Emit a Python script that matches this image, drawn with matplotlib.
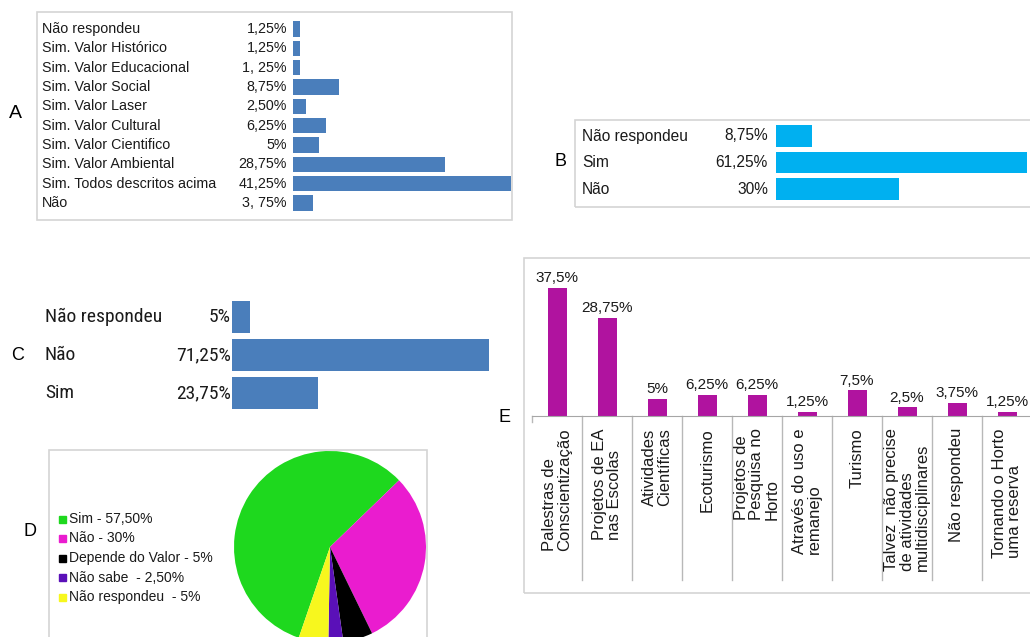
import matplotlib
matplotlib.use("Agg")
import matplotlib.pyplot as plt
import matplotlib.transforms as mtransforms
from matplotlib.patches import Rectangle
from matplotlib import font_manager

plt.rcParams['font.family'] = ['Liberation Sans', 'DejaVu Sans']

# ---------------- data ----------------
cats_A = ["Não respondeu", "Sim. Valor Histórico", "Sim. Valor Educacional",
          "Sim. Valor Social", "Sim. Valor Laser", "Sim. Valor Cultural",
          "Sim. Valor Cientifico", "Sim. Valor Ambiental",
          "Sim. Todos descritos acima", "Não"]
vals_A = [1.25, 1.25, 1.25, 8.75, 2.50, 6.25, 5, 28.75, 41.25, 3.75]
labels_A = ["1,25%", "1,25%", "1, 25%", "8,75%", "2,50%", "6,25%", "5%",
            "28,75%", "41,25%", "3, 75%"]

cats_B = ["Não respondeu", "Sim", "Não"]
vals_B = [8.75, 61.25, 30]
labels_B = ["8,75%", "61,25%", "30%"]

cats_C = ["Não respondeu", "Não", "Sim"]
vals_C = [5, 71.25, 23.75]
labels_C = ["5%", "71,25%", "23,75%"]

cats_D = ["Sim - 57,50%", "Não - 30%", "Depende do Valor - 5%",
          "Não sabe  - 2,50%", "Não respondeu  - 5%"]
vals_D = [57.5, 30, 5, 2.5, 5]
colors_D = ["#1ED81E", "#EA1CCF", "#000000", "#5A10B8", "#F7F71E"]

cats_E = ["Palestras de\nConscientização", "Projetos de EA\nnas Escolas",
          "Atividades\nCientíficas", "Ecoturismo",
          "Projetos de\nPesquisa no\nHorto", "Através do uso e\nremanejo",
          "Turismo", "Talvez  não precise\nde atividades\nmultidisciplinares",
          "Não respondeu", "Tornando o Horto\numa reserva"]
vals_E = [37.5, 28.75, 5, 6.25, 6.25, 1.25, 7.5, 2.5, 3.75, 1.25]
labels_E = ["37,5%", "28,75%", "5%", "6,25%", "6,25%", "1,25%", "7,5%",
            "2,5%", "3,75%", "1,25%"]

# ---------------- layout helpers ----------------
W, H = 1030, 637
fig = plt.figure(figsize=(W / 100, H / 100), dpi=100)
fig.patch.set_facecolor("white")


def rect(l, t, r, b):
    return [l / W, 1 - b / H, (r - l) / W, (b - t) / H]


def ftext(x, y, s, **kw):
    return fig.text(x / W, 1 - y / H, s, **kw)


def box(l, t, r, b, ec="#D4D4D4"):
    fig.add_artist(Rectangle((l / W, 1 - b / H), (r - l) / W, (b - t) / H,
                             transform=fig.transFigure, fill=False,
                             edgecolor=ec, linewidth=1.2))


def hbar_panel(cats, vals, labels, color, l, r, top, bottom, vmax, height,
               cat_x, val_x, fs, **fontkw):
    ax = fig.add_axes(rect(l, top, r, bottom))
    n = len(cats)
    ax.barh(range(n), vals, height=height, color=color)
    ax.set_xlim(0, vmax)
    ax.set_ylim(n - 0.5, -0.5)
    ax.axis("off")
    tr = mtransforms.blended_transform_factory(fig.transFigure, ax.transData)
    kw = dict(fontsize=fs, va="center", transform=tr, color="#1a1a1a")
    kw.update(fontkw)
    for i, (c, lab) in enumerate(zip(cats, labels)):
        ax.text(cat_x / W, i, c, ha="left", **kw)
        ax.text(val_x / W, i, lab, ha="right", **kw)
    return ax


# pick a condensed face if one is installed
names = {f.name for f in font_manager.fontManager.ttflist}
cond = None
for cand in ["Roboto Condensed", "Liberation Sans Narrow",
             "DejaVu Sans Condensed", "Open Sans Condensed"]:
    if cand in names:
        cond = cand
        break
if cond is not None:
    condkw = dict(family=[cond, "DejaVu Sans"])
else:
    condkw = dict(family=["DejaVu Sans"], fontstretch="condensed")

# ---------------- Panel A ----------------
box(37, 12, 512, 220)
hbar_panel(cats_A, vals_A, labels_A, "#4A7EBB", 293, 511, 19.3, 212.7,
           41.25, 0.78, 42, 287, 10.3)
ftext(15, 113, "A", fontsize=14, ha="center", va="center")

# ---------------- Panel B ----------------
box(575, 120, 1040, 207)
hbar_panel(cats_B, vals_B, labels_B, "#00B0F0", 776, 1027, 122.75, 202.25,
           61.25, 0.8, 582, 768, 11.2)
ftext(561, 162, "B", fontsize=13, ha="center", va="center")

# ---------------- Panel C ----------------
hbar_panel(cats_C, vals_C, labels_C, "#4A7EBB", 232, 489, 298, 412,
           71.25, 0.84, 45, 231, 14, **condkw)
ftext(18, 355, "C", fontsize=13, ha="center", va="center")

# ---------------- Panel D ----------------
box(49, 450, 427, 700)
axp = fig.add_axes(rect(234, 451, 426, 643))
axp.pie(vals_D, colors=colors_D, startangle=251, counterclock=False,
        radius=1.0, wedgeprops=dict(linewidth=0))
axp.set_xlim(-1, 1)
axp.set_ylim(-1, 1)
axp.set_aspect("equal")
axp.axis("off")
for i, (c, col) in enumerate(zip(cats_D, colors_D)):
    y = 519 + 19.5 * i
    fig.add_artist(Rectangle((59 / W, 1 - (y + 3.5) / H), 7 / W, 7 / H,
                             transform=fig.transFigure, color=col))
    ftext(69, y, c, fontsize=10, ha="left", va="center", color="#1a1a1a")
ftext(30, 531, "D", fontsize=13, ha="center", va="center")

# ---------------- Panel E ----------------
box(524, 258, 1040, 593)
axe = fig.add_axes(rect(532, 270, 1032, 416))
n = len(vals_E)
xs = list(range(n))
axe.bar(xs, vals_E, width=0.38, color="#B0139F")
axe.set_xlim(-0.5, n - 0.5)
axe.set_ylim(0, (416 - 270) / 3.41)
for s in ["top", "right", "left"]:
    axe.spines[s].set_visible(False)
axe.spines["bottom"].set_color("#A6A6A6")
axe.set_yticks([])
axe.set_xticks([])
for x, v, lab in zip(xs, vals_E, labels_E):
    axe.annotate(lab, (x, v), xytext=(0, 2), textcoords="offset points",
                 ha="center", va="bottom", fontsize=11, color="#1a1a1a")
tr = mtransforms.blended_transform_factory(axe.transData, axe.transAxes)
ybot = -(580 - 416) / (416 - 270)
for b in range(n - 1):
    axe.plot([b + 0.5, b + 0.5], [0, ybot], transform=tr, color="#B8B8B8",
             lw=1, clip_on=False)
axe.plot([-0.5, -0.5], [0, -6 / 146], transform=tr, color="#B8B8B8", lw=1,
         clip_on=False)
label_y = 428
trl = mtransforms.blended_transform_factory(axe.transData, fig.transFigure)
for x, c in zip(xs, cats_E):
    axe.text(x, 1 - label_y / H, c, transform=trl, rotation=90, ha="center",
             va="top", multialignment="left", fontsize=12, linespacing=1.05,
             color="#1a1a1a")
ftext(505, 418, "E", fontsize=13, ha="center", va="center")

fig.savefig("out.png", dpi=100, facecolor="white")
